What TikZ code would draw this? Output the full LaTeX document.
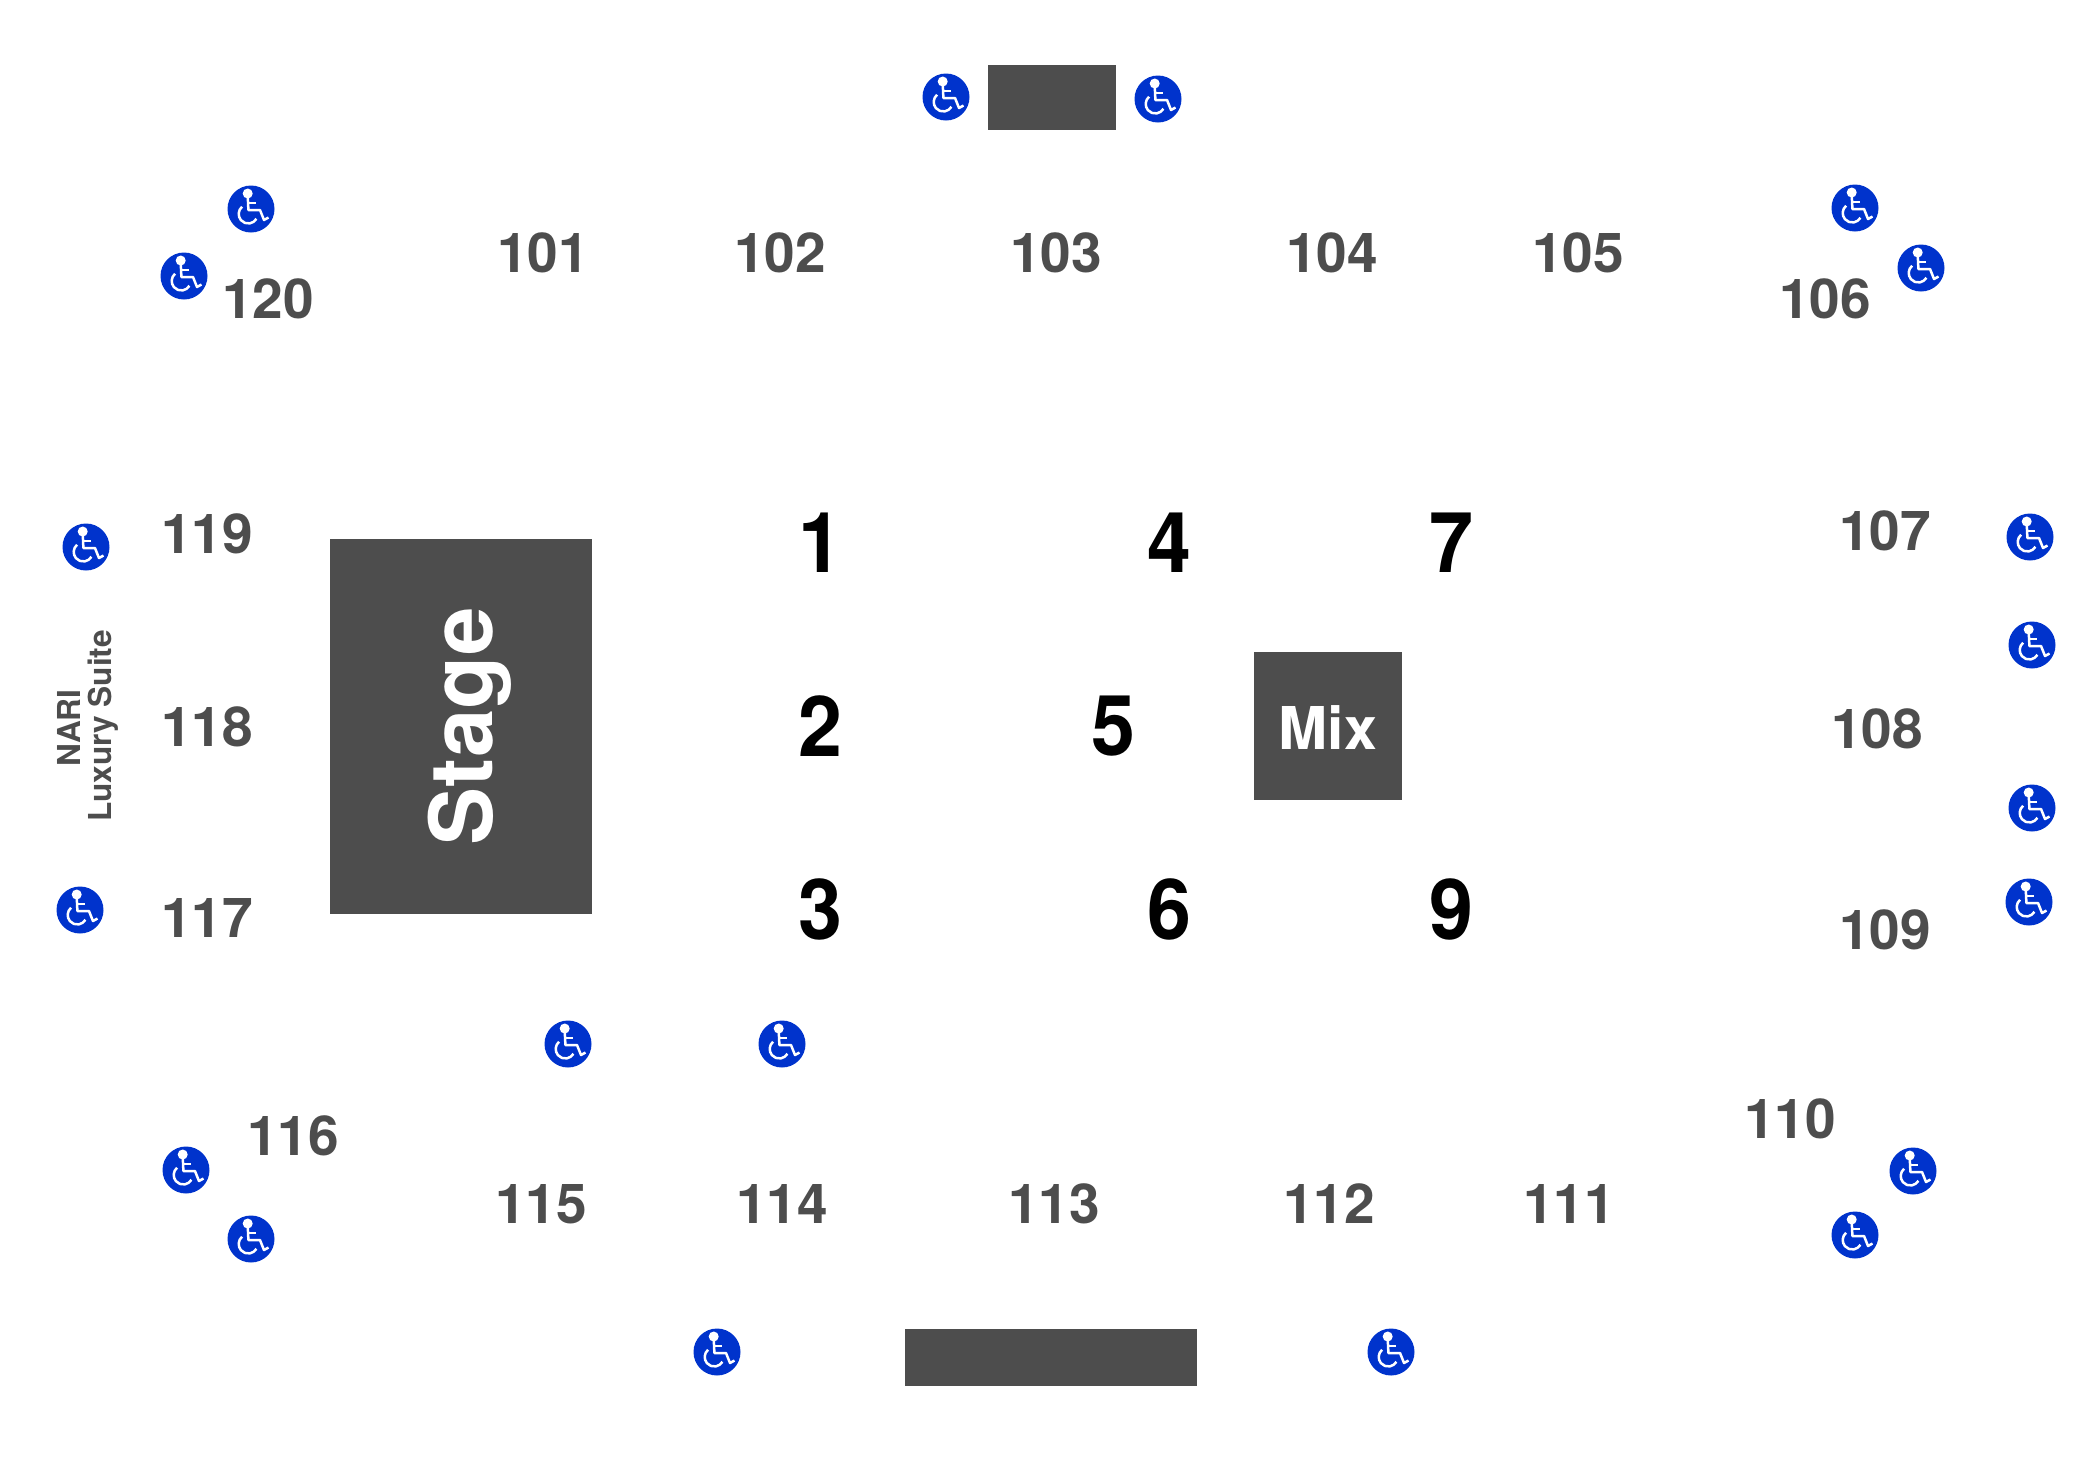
\documentclass[tikz,border=0pt]{standalone}
\usepackage{fontspec}
\setmainfont{TeX Gyre Heros}
\definecolor{seatgrey}{HTML}{4D4D4D}
\definecolor{adablue}{HTML}{0033CC}
\tikzset{
  sect/.style={text=seatgrey,font=\fontsize{27.5}{27.5}\selectfont\bfseries,inner sep=0pt},
  rownum/.style={text=black,font=\fontsize{42}{42}\selectfont\bfseries,inner sep=0pt},
  access/.style={fill=adablue,circle,draw=none,minimum size=23.5pt,inner sep=0pt},
  chairline/.style={draw=white,line width=1.25pt,line join=round},
}
\newcommand{\chairicon}[3]{%
  \node[access] (#1) at (#2,#3) {};
  \begin{scope}[shift={(#1.center)}]
    \fill[white] (-3.3,-15.5) circle[radius=5];
    \draw[chairline] (-3.3,-14) -- (-2.6,1) -- (9,1) -- (13,11) -- (17.5,8.5);
    \draw[chairline] (-2.8,-6) -- (5,-6);
    \draw[chairline] (-2.8,5) ++(230:9.5) arc[start angle=230,end angle=30,radius=9.5];
  \end{scope}}
\begin{document}
\begin{tikzpicture}[x=0.5pt,y=-0.5pt]
\useasboundingbox (0,0) rectangle (2100,1480);
\fill[seatgrey] (988,65) rectangle (1116,130);
\fill[seatgrey] (905,1329) rectangle (1197,1386);
\fill[seatgrey] (330,539) rectangle (592,914);
\fill[seatgrey] (1254,652) rectangle (1402,800);
\node[text=white,font=\fontsize{43.5}{43.5}\selectfont\bfseries,rotate=90,inner sep=0pt] (stage) at (470,726) {Stage};
\node[text=white,font=\fontsize{29.5}{29.5}\selectfont\bfseries,inner sep=0pt] (mix) at (1328,728) {Mix};
\node[text=seatgrey,font=\fontsize{15.8}{15.8}\selectfont\bfseries,rotate=90,inner sep=0pt] (nari) at (69,728) {NARI};
\node[text=seatgrey,font=\fontsize{15.8}{15.8}\selectfont\bfseries,rotate=90,inner sep=0pt] (luxury) at (103,726) {Luxury Suite};
\foreach \n/\x/\y in {101/543/253,102/780/253,103/1056/253,104/1332/253,105/1578/253,106/1825/299,
 107/1885/531,108/1877/729,109/1885/930,110/1790/1119,111/1569/1204,112/1329/1204,113/1054/1204,
 114/782/1204,115/541/1204,116/293/1136,117/207/918,118/207/727,119/207/534,120/268/299}
  {\node[sect] (s\n) at (\x,\y) {\n};}
\foreach \n/\x/\y in {1/820/543,2/820/726,3/820/909,4/1169/543,5/1113/726,6/1169/909,7/1451/543,9/1451/909}
  {\node[rownum] (r\n) at (\x,\y) {\scalebox{0.94}[1]{\n}};}
\foreach \n/\x/\y in {a/946/97,b/1158/99,c/251/209,d/184/276,e/1855/208,f/1921/268,g/86/547,h/80/910,
 i/2030/537,j/2032/645,k/2032/808,l/2029/902,m/568/1044,n/782/1044,o/186/1170,p/251/1239,q/1913/1171,
 r/1855/1235,s/717/1352,t/1391/1352}
  {\chairicon{w\n}{\x}{\y}}
\end{tikzpicture}
\end{document}
